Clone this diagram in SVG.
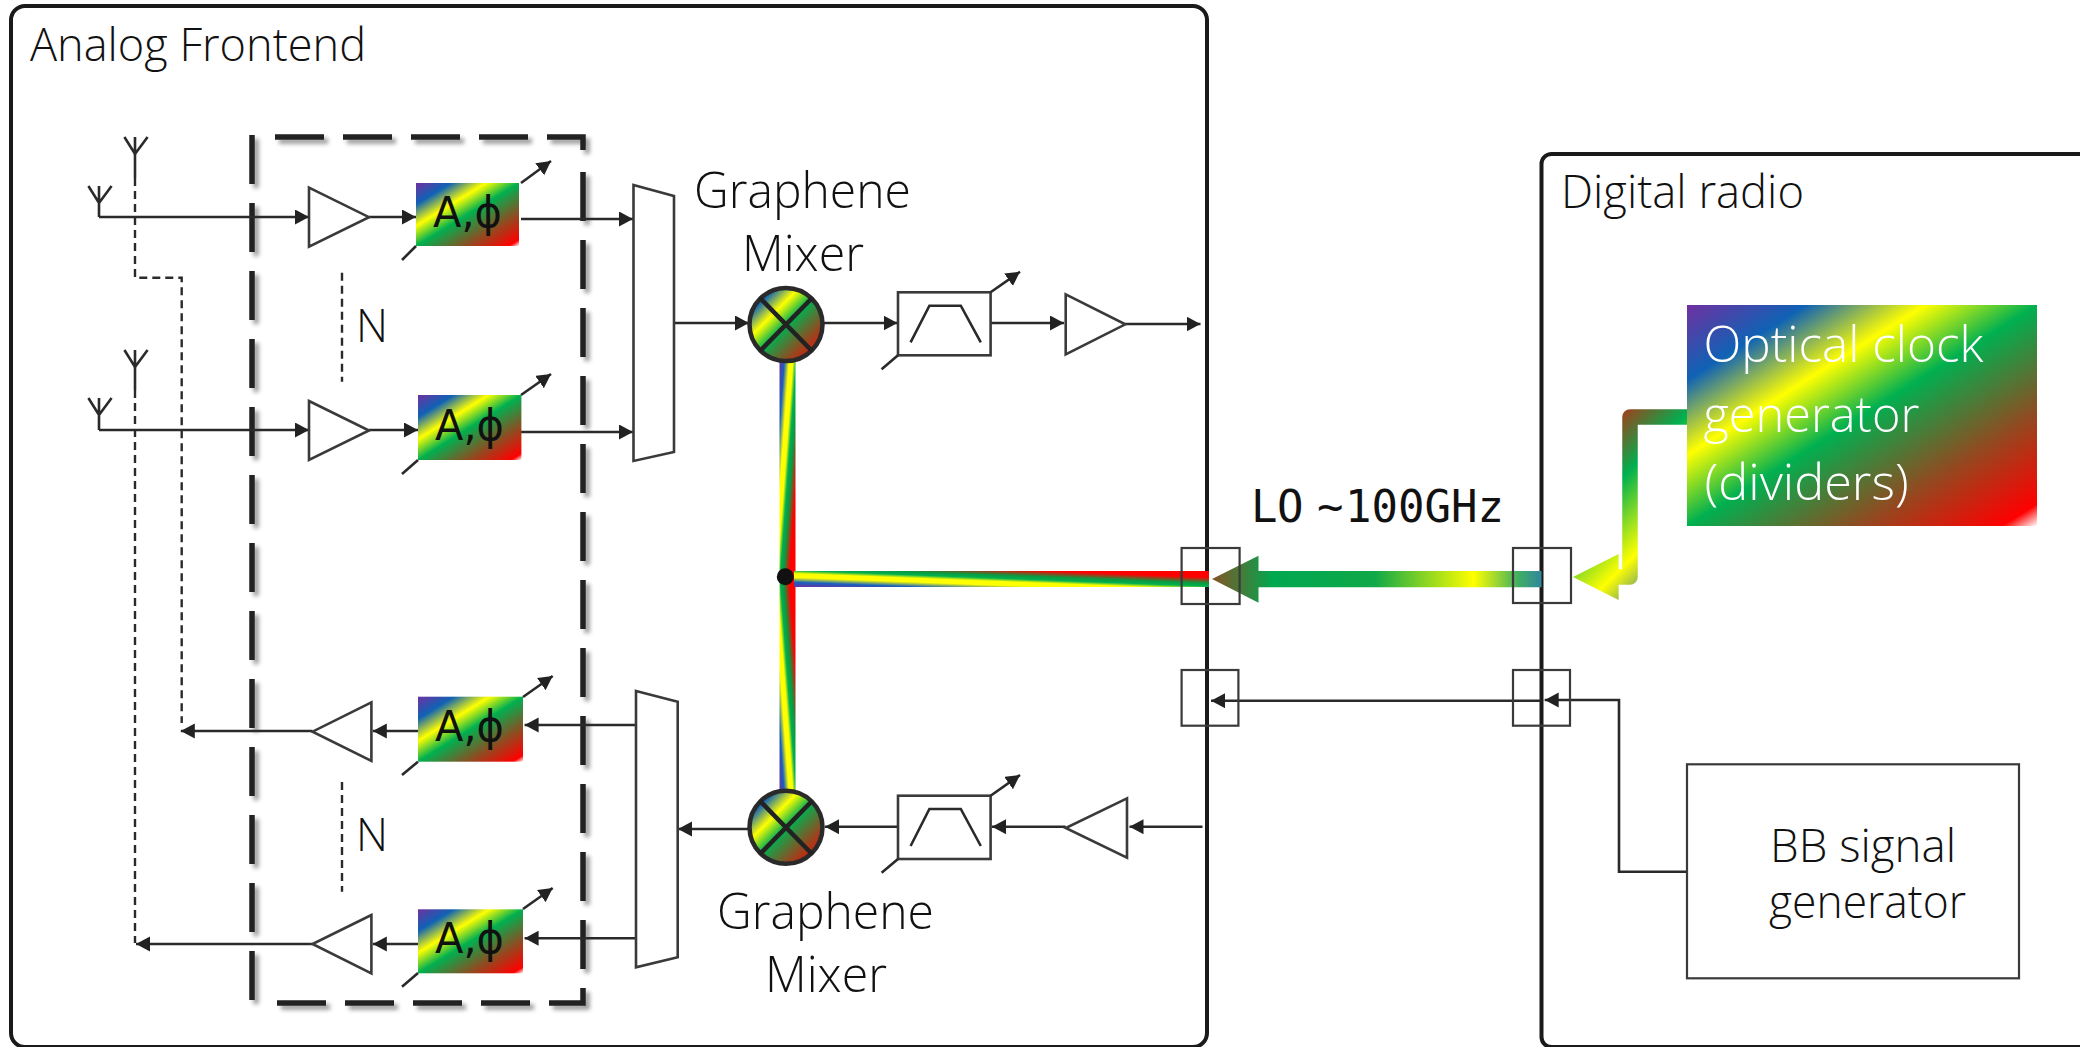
<svg xmlns="http://www.w3.org/2000/svg" width="2080" height="1047" viewBox="0 0 2080 1047">
<style>
text{font-family:"Open Sans","Liberation Sans",sans-serif;fill:#111;font-weight:300}
.frame{fill:none;stroke:#1a1a1a;stroke-width:4}
.ln{fill:none;stroke:#2a2a2a;stroke-width:2.6}
.ar{fill:none;stroke:#2a2a2a;stroke-width:2.6;marker-end:url(#ah)}
.dsh{fill:none;stroke:#2a2a2a;stroke-width:2.4;stroke-dasharray:8 5}
.sh{fill:#fff;stroke:#3a3a3a;stroke-width:2.6}
.thin{fill:none;stroke:#3a3a3a;stroke-width:2.2}
.grad{fill:url(#rb)}
.phi{font-size:42px;font-family:"DejaVu Sans","Liberation Sans",sans-serif;fill:#111;font-weight:400}
.lbl{font-size:46px}
.big{font-size:49px}
.wht{font-size:49px;fill:#fff}
</style>
<defs>
<marker id="ah" markerUnits="userSpaceOnUse" markerWidth="15" markerHeight="16" refX="14" refY="7.5" orient="auto"><path d="M0,0 L14,7.5 L0,15 z" fill="#222"/></marker>
<linearGradient id="rb" x1="0" y1="0" x2="1" y2="1">
<stop offset="0" stop-color="#7030a0"/><stop offset=".17" stop-color="#0f62b5"/><stop offset=".34" stop-color="#ffff00"/><stop offset=".5" stop-color="#00b050"/><stop offset=".75" stop-color="#94481f"/><stop offset=".95" stop-color="#ff0000"/><stop offset="1" stop-color="#ffffff"/>
</linearGradient>
<linearGradient id="beamDown" x1="0" y1="0" x2="1" y2="1">
<stop offset="0" stop-color="#7030a0"/><stop offset=".15" stop-color="#1560c0"/><stop offset=".3" stop-color="#ffff00"/><stop offset=".42" stop-color="#ffff00"/><stop offset=".52" stop-color="#00b050"/><stop offset=".62" stop-color="#0a9a40"/><stop offset=".8" stop-color="#ff0000"/><stop offset="1" stop-color="#ff0000"/>
</linearGradient>
<linearGradient id="beamUp" href="#beamDown" x1="0" y1="1" x2="1" y2="0"/>
<linearGradient id="lo" gradientUnits="userSpaceOnUse" x1="1205" y1="579" x2="1545" y2="579">
<stop offset="0" stop-color="#94481f"/><stop offset=".2" stop-color="#00a850"/><stop offset=".5" stop-color="#10a848"/><stop offset=".79" stop-color="#ffff00"/><stop offset=".92" stop-color="#40b060"/><stop offset="1" stop-color="#2e7fa8"/>
</linearGradient>
<linearGradient id="clk" gradientUnits="userSpaceOnUse" x1="1000" y1="1000" x2="1130" y2="1130">
<stop offset="0" stop-color="#ff0000"/><stop offset=".146" stop-color="#94481f"/><stop offset=".385" stop-color="#00b050"/><stop offset=".73" stop-color="#ffff00"/><stop offset="1" stop-color="#0f62b5"/>
</linearGradient>
<filter id="shd" x="-5%" y="-5%" width="110%" height="110%"><feDropShadow dx="4" dy="4" stdDeviation="2.2" flood-color="#000" flood-opacity=".4"/></filter>
</defs>

<g id="analog-frontend">
<rect class="frame" x="11" y="6" width="1196" height="1041" rx="14"/>
<text class="lbl" x="30" y="61" textLength="336" lengthAdjust="spacingAndGlyphs">Analog Frontend</text>
</g>
<g id="digital-radio">
<rect class="frame" x="1541.500" y="154" width="800" height="893" rx="10"/>
<text class="lbl" x="1561" y="208" textLength="243" lengthAdjust="spacingAndGlyphs">Digital radio</text>
</g>
<g id="array-group">
<path d="M252,135 V1003 M277,1003 H583 V168 M583,150 V137 H273" fill="none" stroke="#222" stroke-width="5.500" stroke-dasharray="49 19" filter="url(#shd)"/>
</g>

<g id="connectors">
<path class="ar" d="M99,217 H309"/>
<path class="ar" d="M369,217 H416"/>
<path class="ar" d="M521,219 H633"/>
<path class="ar" d="M99,430 H309"/>
<path class="ar" d="M369,430 H418"/>
<path class="ar" d="M521,432 H633"/>
<path class="ar" d="M674,323 H749"/>
<path class="ar" d="M823,323 H897.500"/>
<path class="ar" d="M990.600,323 H1064"/>
<path class="ar" d="M1125,324 H1200.500"/>
<path class="ar" d="M1202.500,826.700 H1129.500"/>
<path class="ar" d="M1065.700,826.700 H992"/>
<path class="ar" d="M898,826.700 H825"/>
<path class="ar" d="M749,829 H678"/>
<path class="ar" d="M636,725 H524.600"/>
<path class="ar" d="M636,938.300 H524.600"/>
<path class="ar" d="M418,731 H372.800"/>
<path class="ar" d="M418,944 H372.800"/>
<path class="ar" d="M312.500,731 H180.800"/>
<path class="ar" d="M312.500,944 H136"/>
<path class="ln" d="M135,154 V178"/>
<path class="ln" d="M135,367 V390"/>
<path class="dsh" d="M135,178 V277.700 H181.700 V723"/>
<path class="dsh" d="M135,390 V943"/>
<path class="dsh" d="M342,272.700 V381.700"/>
<path class="dsh" d="M342,782 V891.700"/>
<path class="ar" d="M1541,700.700 H1211"/>
<path class="ar" d="M1687,871.700 H1619 V700 H1544.700"/>
<rect x="779.500" y="361" width="16" height="217" fill="url(#beamDown)"/>
<rect x="779.500" y="578" width="16" height="214" fill="url(#beamUp)"/>
<rect x="794" y="571" width="415" height="16" fill="url(#beamUp)"/>
<path d="M1541.500,571 H1250 V587.300 H1541.500 z" fill="url(#lo)"/>
<path d="M1258.500,555.700 L1212,579 L1258.500,602.700 z" fill="url(#lo)"/>
<path d="M1687,417 H1630 V577 H1618" fill="none" stroke="url(#clk)" stroke-width="15.500" stroke-linejoin="round"/>
<path d="M1618.600,554 L1573,577 L1618.600,600 z" fill="url(#clk)"/>
</g>

<g id="antenna-1"><path class="ln" d="M88.400,186 L99,203 L111.600,186 M99,186 V217"/></g>
<g id="antenna-2"><path class="ln" d="M124.400,137 L135,154 L147.600,137 M135,137 V154"/></g>
<g id="antenna-3"><path class="ln" d="M88.400,398 L99,415 L111.600,398 M99,398 V430"/></g>
<g id="antenna-4"><path class="ln" d="M124.400,350 L135,367 L147.600,350 M135,350 V367"/></g>

<g id="amp-1"><path class="sh" d="M309,187.700 L369,217.200 L309,246.700 z"/></g>
<g id="amp-2"><path class="sh" d="M309,401 L369,430.500 L309,460 z"/></g>
<g id="amp-3"><path class="sh" d="M371.400,702.300 L312.500,731.700 L371.400,761 z"/></g>
<g id="amp-4"><path class="sh" d="M371.400,915 L312.500,944 L371.400,973.300 z"/></g>
<g id="amp-5"><path class="sh" d="M1065.700,294.300 L1125.300,324.300 L1065.700,354.300 z"/></g>
<g id="amp-6"><path class="sh" d="M1127,798.300 L1065.700,828 L1127,857.700 z"/></g>

<g id="phase-1"><rect class="grad" x="416" y="183" width="103" height="63"/><text class="phi" x="433" y="226.700" textLength="69" lengthAdjust="spacingAndGlyphs">A,ϕ</text><path class="ar" d="M521,183 L551,161"/><path class="ln" d="M416,246 L402,260"/></g>
<g id="phase-2"><rect class="grad" x="418" y="395" width="103.400" height="65"/><text class="phi" x="435" y="440" textLength="69" lengthAdjust="spacingAndGlyphs">A,ϕ</text><path class="ar" d="M521,395 L551,374"/><path class="ln" d="M418,460 L402,474"/></g>
<g id="phase-3"><rect class="grad" x="418" y="696.700" width="105" height="65"/><text class="phi" x="435" y="740.700" textLength="69" lengthAdjust="spacingAndGlyphs">A,ϕ</text><path class="ar" d="M523,697 L552.700,676"/><path class="ln" d="M418,761.700 L402,775"/></g>
<g id="phase-4"><rect class="grad" x="418" y="909.300" width="105" height="64"/><text class="phi" x="435" y="953.300" textLength="69" lengthAdjust="spacingAndGlyphs">A,ϕ</text><path class="ar" d="M523,909 L552.700,888"/><path class="ln" d="M418,973 L402,986.700"/></g>

<g id="n-upper"><text class="lbl" x="356" y="342" textLength="32" lengthAdjust="spacingAndGlyphs">N</text></g>
<g id="n-lower"><text class="lbl" x="356" y="851" textLength="32" lengthAdjust="spacingAndGlyphs">N</text></g>

<g id="combiner"><path class="sh" d="M633.500,185 L674,196 V452 L633.500,461 z"/></g>
<g id="splitter"><path class="sh" d="M636,691 L677.700,701.700 V957.300 L636,967.300 z"/></g>

<g id="mixer-top">
<circle cx="786" cy="324.500" r="36.500" fill="url(#rb)" stroke="#2a2a2a" stroke-width="4.500"/>
<path d="M760,298 L812,351 M812,298 L760,351" stroke="#222" stroke-width="4.500"/>
<text class="big" x="694" y="208" textLength="217" lengthAdjust="spacingAndGlyphs">Graphene</text>
<text class="big" x="742" y="270.700" textLength="122" lengthAdjust="spacingAndGlyphs">Mixer</text>
</g>
<g id="mixer-bottom">
<circle cx="786" cy="827.300" r="36.500" fill="url(#rb)" stroke="#2a2a2a" stroke-width="4.500"/>
<path d="M760,801 L812,854 M812,801 L760,854" stroke="#222" stroke-width="4.500"/>
<text class="big" x="717" y="929" textLength="217" lengthAdjust="spacingAndGlyphs">Graphene</text>
<text class="big" x="765" y="992" textLength="122" lengthAdjust="spacingAndGlyphs">Mixer</text>
</g>

<g id="filter-top">
<rect class="sh" x="898" y="292.300" width="92.600" height="63"/>
<path class="ln" d="M910.600,342.300 L929.400,305.700 H960.800 L980.800,342.300"/>
<path class="ar" d="M990.600,292.300 L1020,271.700"/><path class="ln" d="M898,355.300 L881.600,369.300"/>
</g>
<g id="filter-bottom">
<rect class="sh" x="898" y="795.700" width="92.600" height="63.300"/>
<path class="ln" d="M910.600,846 L929.400,809 H960.800 L980.800,846"/>
<path class="ar" d="M990.600,795.700 L1020,775"/><path class="ln" d="M898,859 L881.600,872.700"/>
</g>

<g id="junction"><circle cx="785.300" cy="576.700" r="8.500" fill="#111"/></g>

<g id="port-a1"><rect class="thin" x="1181.600" y="548" width="58" height="56"/></g>
<g id="port-a2"><rect class="thin" x="1181.600" y="670" width="56.800" height="55.700"/></g>
<g id="port-d1"><rect class="thin" x="1513" y="548" width="58" height="55"/></g>
<g id="port-d2"><rect class="thin" x="1513" y="670" width="57" height="55.700"/></g>

<g id="lo-label"><text x="1251 1277 1304 1317 1345" y="522" font-size="44" style="font-family:'DejaVu Sans Mono','Liberation Mono',monospace;font-weight:400">LO ~100GHz</text></g>

<g id="optical-clock">
<rect class="grad" x="1687" y="305" width="350" height="221"/>
<text class="wht" x="1703.400" y="361.700" textLength="280" lengthAdjust="spacingAndGlyphs">Optical clock</text>
<text class="wht" x="1703.400" y="431.700" textLength="216" lengthAdjust="spacingAndGlyphs">generator</text>
<text class="wht" x="1704.600" y="500" textLength="204" lengthAdjust="spacingAndGlyphs">(dividers)</text>
</g>
<g id="bb-generator">
<rect class="thin" x="1687" y="764.300" width="332" height="214"/>
<text class="lbl" x="1770" y="861.700" textLength="186" lengthAdjust="spacingAndGlyphs">BB signal</text>
<text class="lbl" x="1769" y="917.700" textLength="197" lengthAdjust="spacingAndGlyphs">generator</text>
</g>
</svg>
